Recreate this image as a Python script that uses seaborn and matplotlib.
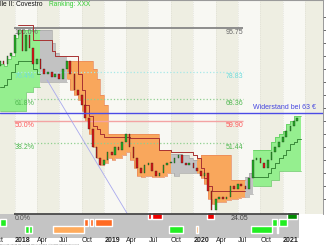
import numpy as np
import pandas as pd
import matplotlib
matplotlib.use("Agg")
import matplotlib.pyplot as plt
import matplotlib.dates as mdates
from matplotlib.patches import Rectangle
import seaborn as sns

sns.set_style("white")
plt.rcParams['font.family'] = ['Liberation Sans', 'DejaVu Sans']

# ---------------- data (semi-monthly) ----------------
dates = pd.date_range('2017-11-01', '2021-03-01', freq='SMS')
close = [83, 82, 85, 86, 93, 95, 87, 93, 88, 82,
         84, 80, 78, 79, 77, 78, 76, 80, 83, 78,
         72, 70, 66, 61, 57, 50, 46, 43, 45, 48,
         47, 50, 49, 52, 55, 50, 46, 42, 40, 43,
         44, 41, 39, 40, 43, 44, 44, 46, 47, 44,
         43, 44, 42, 41, 39, 40, 33, 26, 30, 31,
         30, 31, 35, 34, 36, 35, 34, 38, 45, 46,
         44, 42, 45, 48, 50, 52, 54, 56, 58, 60,
         61]
first_open = 81

# trend cloud: state G=bullish, N=neutral, O=bearish
cloud_state = (['G'] * 11 + ['N'] * 7 + ['O'] * 28 + ['N'] * 7 +
               ['O'] * 13 + ['N'] * 2 + ['G'] * 13)
cloud_hi = [82, 81, 84, 85, 92, 95, 95, 95, 95, 95, 95,
            95, 95, 95, 90, 86, 85, 85,
            83, 83, 83, 83, 83, 83, 83, 80, 76, 70, 66, 55,
            55, 55, 55, 55, 55, 55, 55, 55, 55, 55, 55, 55, 55, 49, 49, 49,
            47.5, 47.5, 47.5, 47, 47, 46, 45,
            46, 47, 47, 47, 47, 47, 47, 47, 47, 37.5, 37.5, 37.5, 37.5,
            38.5, 40,
            49, 49, 49, 49, 49, 52, 54, 55, 56, 59, 60, 62, 62]
cloud_lo = [64, 64, 64, 64, 64, 64, 64, 71, 71, 73, 73,
            75, 75, 75, 75, 75, 75, 75,
            76, 72, 70, 68, 64, 60, 55, 50, 46, 43, 44, 46,
            45, 46, 46, 47, 48, 45, 42, 39, 38.5, 39, 39, 38.5, 38.5, 38.5, 39, 40,
            40, 39, 40, 40, 40, 40, 40,
            40, 38, 36, 30, 28, 29, 29, 29, 29.5, 30, 30, 30.5, 31,
            31, 32,
            35, 35, 35, 35, 35, 37.5, 37.5, 41, 41, 41, 41, 41, 41]

nan = np.nan
res_line = ([nan] * 5 + [97, 97, 97, 97, 91, 91, 91, 91, 91, 87, 85, 85, 85, 85, 85, 85,
             78, 72, 66, 62, 58, 57, 55, 54, 54, 54, 54, 54, 54, 54,
             53.5, 53.5, 53.5, 53.5, 53.5, 53.5, 53.5, 53.5, 49, 49, 49,
             48, 48, 48, 48, 48, 48, 47, 46, 42, 38, 35,
             33, 33, 33, 33, 33, 33, 33, 33, 33] + [nan] * 15)
sup_line = ([73, 74, 76, 79, 82, 83, 83, 83, 83, 80, 78] + [nan] * 57 +
            [38.5, 38.5, 38.5, 38.5, 40, 42, 44, 46, 47, 49, 51, 52, 53])

trend_dates = ['2018-05-12', '2019-04-06']
trend_vals = [75.8, 24.3]

fib_vals = [95.75, 78.83, 68.36, 59.90, 51.44]
fib_pcts = ['100.0%', '76.4%', '61.8%', '50.0%', '38.2%']
fib_low_val = 24.05
fib_low_pct = '0.0%'
resistance = 63
resistance_label = 'Widerstand bei 63 €'

sig_start = ['2019-06-28', '2019-07-16', '2020-02-24', '2021-01-18',
             '2017-11-01', '2018-10-12', '2018-11-03', '2018-11-23', '2020-11-16', '2020-12-15',
             '2018-02-10', '2018-03-01', '2018-06-07', '2019-09-25', '2020-01-10', '2020-08-22', '2020-12-06']
sig_end = ['2019-07-10', '2019-08-24', '2020-03-27', '2021-02-27',
           '2017-11-24', '2018-10-25', '2018-11-15', '2019-01-31', '2020-12-06', '2021-01-18',
           '2018-02-28', '2018-03-13', '2018-10-12', '2019-11-18', '2020-01-19', '2020-11-16', '2020-12-12']
sig_row = ['A', 'A', 'A', 'A',
           'B', 'B', 'B', 'B', 'B', 'B',
           'C', 'C', 'C', 'C', 'C', 'C', 'C']
sig_kind = ['red', 'red', 'red', 'dgreen',
            'green', 'orange', 'orange', 'orange', 'green', 'green',
            'green', 'green', 'lorange', 'green', 'lorange', 'green', 'green']

quarter_starts = pd.date_range('2017-10-01', '2021-01-01', freq='QS')

# ---------------- figure ----------------
W, H = 326, 245
fig = plt.figure(figsize=(W / 100, H / 100), dpi=100)
fig.patch.set_facecolor('white')


def rect(x0, y0, x1, y1):
    return [x0 / W, 1 - y1 / H, (x1 - x0) / W, (y1 - y0) / H]


ax = fig.add_axes(rect(0, 0, 323, 214))
axb = fig.add_axes(rect(0, 214, 323, 245))

num = mdates.date2num
jan18 = num(pd.Timestamp('2018-01-01'))
ppd = 7.44 / 30.44           # pixels per day
x_left = jan18 - 15 / ppd
x_right = jan18 + 308 / ppd
xd = num(dates)
step_x = np.append(xd, xd[-1] + 14)

for a in (ax, axb):
    a.set_xlim(x_left, x_right)

# background bands
band_edges = pd.date_range('2017-10-01', '2021-07-01', freq='QS')
for s, e in zip(band_edges[:-1], band_edges[1:]):
    col = '#eeeee2' if s.month in (4, 10) else '#f8f8f3'
    ax.axvspan(num(s), num(e), color=col, zorder=0, lw=0)
    ax.axvline(num(s), color='#d9d9cf', lw=0.5, ls=':', zorder=0.5)

# cloud
fill_col = {'G': '#95ef8f', 'N': '#c2c2c2', 'O': '#f9a75c'}
edge_col = {'G': '#5cc85a', 'N': '#a8a8a8', 'O': '#e8875a'}
states = np.array(cloud_state)
hi = np.array(cloud_hi, float)
lo = np.array(cloud_lo, float)
i = 0
n = len(states)
while i < n:
    j = i
    while j + 1 < n and states[j + 1] == states[i]:
        j += 1
    xs = step_x[i:j + 2]
    ys_hi = np.append(hi[i:j + 1], hi[j])
    ys_lo = np.append(lo[i:j + 1], lo[j])
    ax.fill_between(xs, ys_lo, ys_hi, step='post', color=fill_col[states[i]],
                    lw=0, zorder=1)
    ax.step(xs, ys_hi, where='post', color=edge_col[states[i]], lw=0.5, zorder=1.2)
    ax.step(xs, ys_lo, where='post', color=edge_col[states[i]], lw=0.5, zorder=1.2)
    i = j + 1

# fib lines
fib_x0 = num(pd.Timestamp('2017-12-28'))
fib_x1 = num(pd.Timestamp('2020-07-22'))
fib_line_style = [('#858585', '-', 1.3), ('#a6e9e9', ':', 0.9), ('#8fd08f', ':', 0.9),
                  ('#f3a3a3', '-', 1.0), ('#8fd08f', ':', 0.9)]
fib_text_col = ['#666666', '#6fdcdc', '#4fb84f', '#ff5a5a', '#4fb84f']
for v, p, (lc, ls, lw), tc in zip(fib_vals, fib_pcts, fib_line_style, fib_text_col):
    ax.hlines(v, fib_x0, fib_x1, colors=lc, linestyles=ls, lw=lw, zorder=1.5)
    ax.annotate(p, (fib_x0, v), xytext=(0.5, -0.8), textcoords='offset points',
                ha='left', va='top', fontsize=5, color=tc, zorder=1.6)
    ax.annotate(f'{v:.2f}', (fib_x1, v), xytext=(0, -0.8), textcoords='offset points',
                ha='right', va='top', fontsize=5, color=tc, zorder=1.6)

# trend line
ax.plot(num(pd.to_datetime(trend_dates)), trend_vals, color='#a9a9ee', lw=0.6, zorder=1.7)


# resistance / support lines (seaborn)
def seg_plot(vals, color):
    v = np.array(vals, float)
    idx = np.where(~np.isnan(v))[0]
    if len(idx) == 0:
        return
    groups = np.split(idx, np.where(np.diff(idx) > 1)[0] + 1)
    for g in groups:
        gx = np.append(xd[g], xd[g[-1]] + 14)
        gy = np.append(v[g], v[g[-1]])
        sns.lineplot(x=gx, y=gy, ax=ax, color=color, lw=0.7,
                     drawstyle='steps-post', zorder=2, estimator=None, sort=False)


seg_plot(res_line, '#a83232')
seg_plot(sup_line, '#3a8a3a')

# candles
opens = np.array([first_open] + close[:-1], float)
closes = np.array(close, float)
up = closes >= opens
bottoms = np.minimum(opens, closes)
heights = np.maximum(np.abs(closes - opens), 0.4)
ax.bar(xd, heights, bottom=bottoms, width=7,
       color=np.where(up, '#22b022', '#e01515'), edgecolor='#222222', lw=0.25, zorder=3)

# resistance line
ax.axhline(resistance, color='#4b4be6', lw=1.0, zorder=3.5)
ax.annotate(resistance_label, (jan18 + 301 / ppd, resistance), xytext=(0, 1.5),
            textcoords='offset points', ha='right', va='bottom', fontsize=5,
            color='#4545e0', zorder=4)

ax.set_ylim(24.3, 106.5)
ax.set_yticks(range(30, 105, 5))
ax.yaxis.tick_right()
ax.tick_params(axis='y', length=2.5, width=0.6, colors='#555555', labelright=False)
ax.set_xticks([])
ax.set_xlabel('')
ax.set_ylabel('')
for s in ('left', 'bottom'):
    ax.spines[s].set_visible(False)
ax.spines['top'].set_color('#9a9a9a')
ax.spines['top'].set_linewidth(0.8)
ax.spines['right'].set_color('#888888')
ax.spines['right'].set_linewidth(0.6)

# ---------------- bottom panel ----------------
axb.set_ylim(31, 0)
axb.axis('off')
x_end = xd[-1] + 6
axb.add_patch(Rectangle((x_left, 0), x_end - x_left, 24, color='#c4c4c4', lw=0, zorder=0))
axb.hlines(0.4, fib_x0, x_end, colors='#4a4a4a', lw=1.3, zorder=3, clip_on=False)

row_pos = {'A': (-2, 7), 'B': (5, 7), 'C': (12, 7)}
kind_col = {'red': '#ee0000', 'dgreen': '#008a00', 'green': '#22ee22',
            'orange': '#ff6a22', 'lorange': '#ffab5c'}
for s, e, r, k in zip(sig_start, sig_end, sig_row, sig_kind):
    x0, x1 = num(pd.Timestamp(s)), num(pd.Timestamp(e))
    axb.broken_barh([(x0, x1 - x0)], row_pos[r], facecolors=kind_col[k], zorder=2,
                    clip_on=False)

axb.text(fib_x0 + 2, 1.3, fib_low_pct, ha='left', va='top', fontsize=5, color='#555555', zorder=4)
axb.text(fib_x1 + 20, 1.3, f'{fib_low_val:.2f}', ha='right', va='top', fontsize=5,
         color='#444444', zorder=4)

for q in quarter_starts:
    lab = str(q.year) if q.month == 1 else q.strftime('%b')
    axb.text(num(q), 26, lab, ha='left', va='center', fontsize=5,
             fontweight='bold' if q.month == 1 else 'normal', color='#222222', zorder=4)

axb.text(x_left + 2, 30.4, 'advanced charting and technical analysis software  http://www.tradesignalonline.com',
         ha='left', va='center', fontsize=1.5, color='#888888')

fig.text(0.5 / W, 1 - 5 / H, 'lle II: Covestro', ha='left', va='center', fontsize=4.8, color='#111111')
fig.text(49 / W, 1 - 5 / H, 'Ranking: XXX', ha='left', va='center', fontsize=4.8, color='#33cc33')

fig.savefig('out.png', dpi=100)
